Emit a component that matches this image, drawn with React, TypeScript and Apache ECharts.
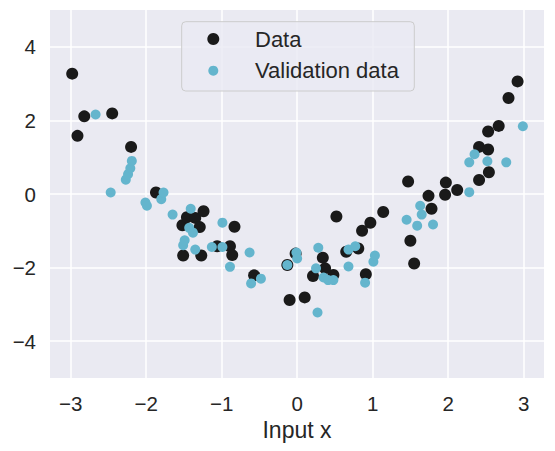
import React, { useEffect, useRef } from "react";
import * as echarts from "echarts";

const dataX = [-2.98, -2.91, -2.82, -2.45, -2.2, -1.87, -1.52, -1.51, -1.46, -1.35, -1.29, -1.27, -1.24, -1.06, -0.89, -0.86, -0.83, -0.57, -0.13, -0.1, -0.02, 0.1, 0.21, 0.34, 0.37, 0.48, 0.52, 0.65, 0.81, 0.86, 0.91, 0.97, 1.14, 1.47, 1.5, 1.55, 1.74, 1.78, 1.96, 1.97, 2.12, 2.41, 2.41, 2.53, 2.54, 2.53, 2.67, 2.8, 2.92];
const dataY = [3.27, 1.58, 2.11, 2.19, 1.28, 0.04, -0.85, -1.67, -0.63, -0.65, -0.9, -1.67, -0.47, -1.42, -1.42, -1.66, -0.89, -2.21, -1.93, -2.88, -1.62, -2.81, -2.23, -1.73, -2.02, -2.2, -0.61, -1.57, -1.48, -1.0, -2.18, -0.78, -0.49, 0.34, -1.27, -1.89, -0.05, -0.4, -0.02, 0.31, 0.11, 0.38, 1.28, 1.21, 0.59, 1.7, 1.85, 2.61, 3.06];

const valX = [-2.67, -2.47, -2.27, -2.24, -2.21, -2.19, -2.01, -1.99, -1.8, -1.77, -1.65, -1.51, -1.49, -1.43, -1.41, -1.38, -1.35, -1.13, -0.99, -0.99, -0.89, -0.63, -0.61, -0.48, -0.13, -0.01, 0.0, 0.25, 0.27, 0.28, 0.35, 0.41, 0.48, 0.68, 0.68, 0.77, 0.9, 1.01, 1.03, 1.45, 1.59, 1.63, 1.65, 1.8, 2.28, 2.28, 2.35, 2.52, 2.77, 2.99];
const valY = [2.16, 0.04, 0.39, 0.54, 0.7, 0.9, -0.23, -0.32, -0.14, 0.04, -0.56, -1.39, -1.26, -0.92, -0.4, -1.05, -1.51, -1.44, -0.78, -1.44, -1.98, -1.59, -2.43, -2.3, -1.93, -1.59, -1.75, -2.02, -3.22, -1.46, -2.27, -2.34, -2.34, -1.51, -1.97, -1.42, -2.41, -1.84, -1.67, -0.7, -0.86, -0.32, -0.56, -0.83, 0.05, 0.86, 1.08, 0.89, 0.86, 1.84];

const xTicks = [-3, -2, -1, 0, 1, 2, 3];
const yTicks = [-4, -2, 0, 2, 4];
const seriesNames = ["Data", "Validation data"];
const xLabel = "Input x";

const FONT = "'Liberation Sans', Arial, 'DejaVu Sans', sans-serif";
const TEXT = "#262626";
const BLACK = "#1a1a1a";
const CYAN = "#64b5cd";

const fmt = (v: number) => (v < 0 ? "\u2212" + Math.abs(v) : String(v));

export default function App() {
  const ref = useRef<HTMLDivElement>(null);
  useEffect(() => {
    if (!ref.current) return;
    const chart = echarts.init(ref.current, undefined, { renderer: "svg" });
    const axisCommon = {
      type: "value" as const,
      axisLine: { show: false },
      axisTick: { show: false },
      splitLine: { show: true, lineStyle: { color: "#ffffff", width: 1.5 } },
    };
    chart.setOption({
      animation: false,
      grid: {
        left: 50,
        right: 11,
        top: 10,
        bottom: 73,
        show: true,
        backgroundColor: "#eaeaf2",
        borderWidth: 0,
      },
      xAxis: {
        ...axisCommon,
        min: -3.274,
        max: 3.27,
        axisTick: { show: false, customValues: xTicks },
        axisLabel: {
          customValues: xTicks,
          formatter: fmt,
          fontSize: 20.5,
          color: TEXT,
          fontFamily: FONT,
          margin: 15,
        },
        name: xLabel,
        nameLocation: "middle",
        nameGap: 38,
        nameTextStyle: { fontSize: 23, color: TEXT, fontFamily: FONT },
      },
      yAxis: {
        ...axisCommon,
        min: -5,
        max: 5,
        axisTick: { show: false, customValues: yTicks },
        axisLabel: {
          customValues: yTicks,
          formatter: fmt,
          fontSize: 20.5,
          color: TEXT,
          fontFamily: FONT,
          margin: 14,
        },
      },
      legend: [
        {
          data: [seriesNames[0]],
          left: 207.3,
          top: 28,
          padding: 0,
          itemWidth: 73.4,
          itemHeight: 12,
          icon: "circle",
          selectedMode: false,
          textStyle: { fontSize: 22, color: TEXT, fontFamily: FONT },
          z: 5,
        },
        {
          data: [seriesNames[1]],
          left: 208.3,
          top: 59.7,
          padding: 0,
          itemWidth: 73.4,
          itemHeight: 10,
          icon: "circle",
          selectedMode: false,
          textStyle: { fontSize: 22, color: TEXT, fontFamily: FONT },
          z: 5,
        },
      ],
      graphic: [
        {
          type: "rect",
          z: 3,
          shape: { x: 181.7, y: 21.7, width: 232.6, height: 69.3, r: 4 },
          style: { fill: "rgba(234,234,242,0.8)", stroke: "#cccccc", lineWidth: 1 },
        },
      ],
      series: [
        {
          name: seriesNames[0],
          type: "scatter",
          symbol: "circle",
          symbolSize: 12,
          itemStyle: { color: BLACK, opacity: 1 },
          data: dataX.map((x, i) => [x, dataY[i]]),
          z: 2,
        },
        {
          name: seriesNames[1],
          type: "scatter",
          symbol: "circle",
          symbolSize: 10,
          itemStyle: { color: CYAN, opacity: 1 },
          data: valX.map((x, i) => [x, valY[i]]),
          z: 3,
        },
      ],
    });
    return () => chart.dispose();
  }, []);
  return <div ref={ref} style={{ width: 555, height: 451, margin: -8 }} />;
}
